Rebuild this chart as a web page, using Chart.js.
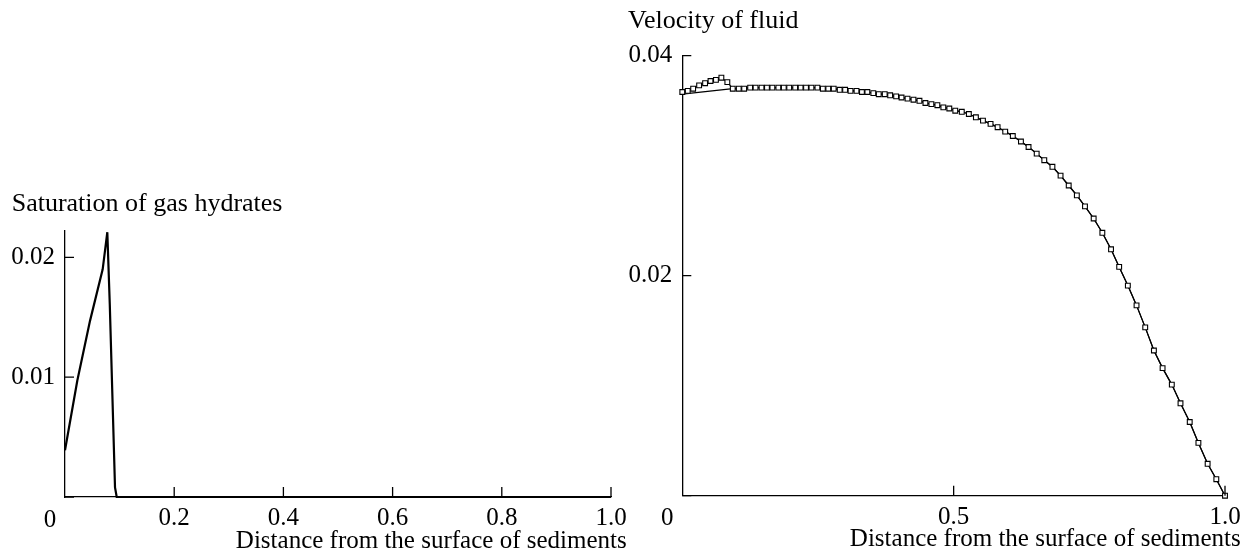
<!DOCTYPE html>
<html>
<head>
<meta charset="utf-8">
<script src="https://cdn.jsdelivr.net/npm/chart.js@4.4.1/dist/chart.umd.min.js"></script>
<style>
  html, body { margin: 0; padding: 0; background: #fff; }
  body { width: 1243px; height: 554px; position: relative; overflow: hidden; }
  canvas { position: absolute; top: 0; }
  #left { left: 0; }
  #right { left: 620px; }
</style>
</head>
<body>
<canvas id="left" width="640" height="554"></canvas>
<canvas id="right" width="623" height="554"></canvas>
<script>
// left panel: saturation of gas hydrates
const satX = [0, 0.0225, 0.0458, 0.069, 0.0775, 0.082, 0.0916, 0.0947, 1.0];
const satY = [0.0039, 0.0097, 0.0147, 0.0190, 0.0221, 0.0161, 0.0008, 0, 0];
const satXTicks = [0.2, 0.4, 0.6, 0.8, 1.0];
const satXLabels = ['0.2', '0.4', '0.6', '0.8', '1.0'];
const satYTicks = [0.01, 0.02];
const satYLabels = ['0.01', '0.02'];

// right panel: velocity of fluid (square markers)
const velX = [0.000, 0.010, 0.020, 0.031, 0.042, 0.052, 0.062, 0.072, 0.083, 0.093,
  0.104, 0.114, 0.125, 0.135, 0.146, 0.156, 0.166, 0.177, 0.187, 0.197,
  0.208, 0.218, 0.228, 0.238, 0.249, 0.259, 0.269, 0.279, 0.290, 0.300,
  0.310, 0.321, 0.331, 0.341, 0.352, 0.362, 0.373, 0.383, 0.394, 0.404,
  0.415, 0.426, 0.437, 0.448, 0.459, 0.470, 0.481, 0.492, 0.503, 0.515,
  0.528, 0.541, 0.554, 0.568, 0.581, 0.595, 0.609, 0.624, 0.638, 0.653,
  0.667, 0.682, 0.697, 0.712, 0.727, 0.742, 0.758, 0.774, 0.790, 0.805,
  0.821, 0.837, 0.853, 0.869, 0.885, 0.902, 0.918, 0.935, 0.951, 0.968,
  0.984, 1.000];
const velY = [0.0367, 0.0368, 0.0370, 0.0373, 0.0375, 0.0377, 0.0378, 0.0380, 0.0376, 0.0370,
  0.0370, 0.0370, 0.0371, 0.0371, 0.0371, 0.0371, 0.0371, 0.0371, 0.0371, 0.0371,
  0.0371, 0.0371, 0.0371, 0.0371, 0.0371, 0.0370, 0.0370, 0.0370, 0.0369, 0.0369,
  0.0368, 0.0368, 0.0367, 0.0367, 0.0366, 0.0365, 0.0365, 0.0364, 0.0363, 0.0362,
  0.0361, 0.0360, 0.0359, 0.0357, 0.0356, 0.0355, 0.0353, 0.0352, 0.0350, 0.0349,
  0.0347, 0.0344, 0.0341, 0.0338, 0.0335, 0.0331, 0.0327, 0.0322, 0.0317, 0.0311,
  0.0305, 0.0299, 0.0291, 0.0282, 0.0273, 0.0263, 0.0252, 0.0239, 0.0224, 0.0208,
  0.0191, 0.0173, 0.0153, 0.0132, 0.0116, 0.0101, 0.0084, 0.0067, 0.0048, 0.0029,
  0.0015, 0.0000];
// solid curve: straight start, then same path as the markers
const lineStartX = [0, 0.093];
const lineStartY = [0.0365, 0.0370];
const velXTicks = [0.5, 1.0];
const velXLabels = ['0.5', '1.0'];
const velYTicks = [0.02, 0.04];
const velYLabels = ['0.02', '0.04'];

const FONT = 'Liberation Serif';
const SIZE = 25;
Chart.defaults.font.family = FONT;
Chart.defaults.font.size = SIZE;
Chart.defaults.color = '#000';

// inward tick marks, the corner "0" and the axis caption
const frame = {
  id: 'frame',
  afterDraw(chart, args, opts) {
    const { ctx, chartArea: a, scales: { x, y } } = chart;
    ctx.save();
    ctx.strokeStyle = '#000';
    ctx.lineWidth = 1.3;
    ctx.beginPath();
    opts.xMarks.forEach(v => {
      const px = x.getPixelForValue(v);
      ctx.moveTo(px, a.bottom);
      ctx.lineTo(px, a.bottom - 10);
    });
    opts.yMarks.forEach(v => {
      const py = y.getPixelForValue(v);
      ctx.moveTo(a.left, py);
      ctx.lineTo(a.left + 9, py);
    });
    ctx.stroke();
    ctx.fillStyle = '#000';
    ctx.font = SIZE + 'px "' + FONT + '"';
    ctx.textBaseline = 'alphabetic';
    ctx.textAlign = 'center';
    ctx.fillText('0', a.left - 15, a.bottom + 29.5);
    ctx.textAlign = 'right';
    ctx.fillText('Distance from the surface of sediments', a.right + 15.7, a.bottom + 50.5);
    ctx.restore();
  }
};

function pairs(xs, ys) {
  return xs.map((x, i) => ({ x: x, y: ys[i] }));
}

function axis(min, max, ticks, labels, pad, fit) {
  return {
    type: 'linear',
    min: min,
    max: max,
    border: { color: '#000', width: 1.3 },
    grid: { display: false, drawTicks: false },
    afterBuildTicks: s => { s.ticks = ticks.map(v => ({ value: v })); },
    ticks: { padding: pad, autoSkip: false, maxRotation: 0, callback: (v, i) => labels[i] },
    afterFit: fit
  };
}

function panel(id, cfg) {
  return new Chart(document.getElementById(id), {
    type: 'scatter',
    data: { datasets: cfg.datasets },
    options: {
      responsive: false,
      animation: false,
      devicePixelRatio: 1,
      layout: { padding: cfg.padding },
      plugins: {
        legend: { display: false },
        tooltip: { enabled: false },
        title: {
          display: true,
          text: cfg.title,
          align: 'start',
          color: '#000',
          font: { size: 26, weight: 'normal', family: FONT },
          padding: { top: 0, bottom: cfg.titleGap }
        },
        frame: { xMarks: cfg.xTicks, yMarks: [0].concat(cfg.yTicks) }
      },
      scales: {
        x: axis(0, 1, cfg.xTicks, cfg.xLabels, 6.3, s => {
          s.height = cfg.xHeight; s.paddingLeft = 0; s.paddingRight = 0;
        }),
        y: axis(0, cfg.yMax, cfg.yTicks, cfg.yLabels, 10, s => {
          s.width = cfg.yWidth; s.paddingTop = 0; s.paddingBottom = 0;
        })
      }
    },
    plugins: [frame]
  });
}

panel('left', {
  title: 'Saturation of gas hydrates',
  padding: { left: 11.7, top: 188.9, right: 29, bottom: 0 },
  titleGap: 10.9,
  xHeight: 57,
  yWidth: 53.3,
  yMax: 0.0222,
  xTicks: satXTicks, xLabels: satXLabels,
  yTicks: satYTicks, yLabels: satYLabels,
  datasets: [{
    data: pairs(satX, satY),
    showLine: true,
    borderColor: '#000',
    borderWidth: 2.2,
    pointRadius: 0,
    tension: 0,
    clip: false
  }]
});

const tailX = velX.filter(x => x > 0.1);
const tailY = velY.filter((v, i) => velX[i] > 0.1);

panel('right', {
  title: 'Velocity of fluid',
  padding: { left: 8, top: 5.6, right: 18, bottom: 0 },
  titleGap: 18.9,
  xHeight: 58.3,
  yWidth: 54.3,
  yMax: 0.04,
  xTicks: velXTicks, xLabels: velXLabels,
  yTicks: velYTicks, yLabels: velYLabels,
  datasets: [{
    data: pairs(velX, velY),
    showLine: true,
    borderColor: '#000',
    borderWidth: 1.2,
    pointStyle: 'rect',
    pointRadius: 3.4,
    pointBackgroundColor: '#fff',
    pointBorderColor: '#000',
    pointBorderWidth: 1.1,
    tension: 0,
    clip: false
  }, {
    data: pairs(lineStartX.concat(tailX), lineStartY.concat(tailY)),
    showLine: true,
    borderColor: '#000',
    borderWidth: 1.2,
    pointRadius: 0,
    tension: 0,
    clip: false
  }]
});
</script>
</body>
</html>
